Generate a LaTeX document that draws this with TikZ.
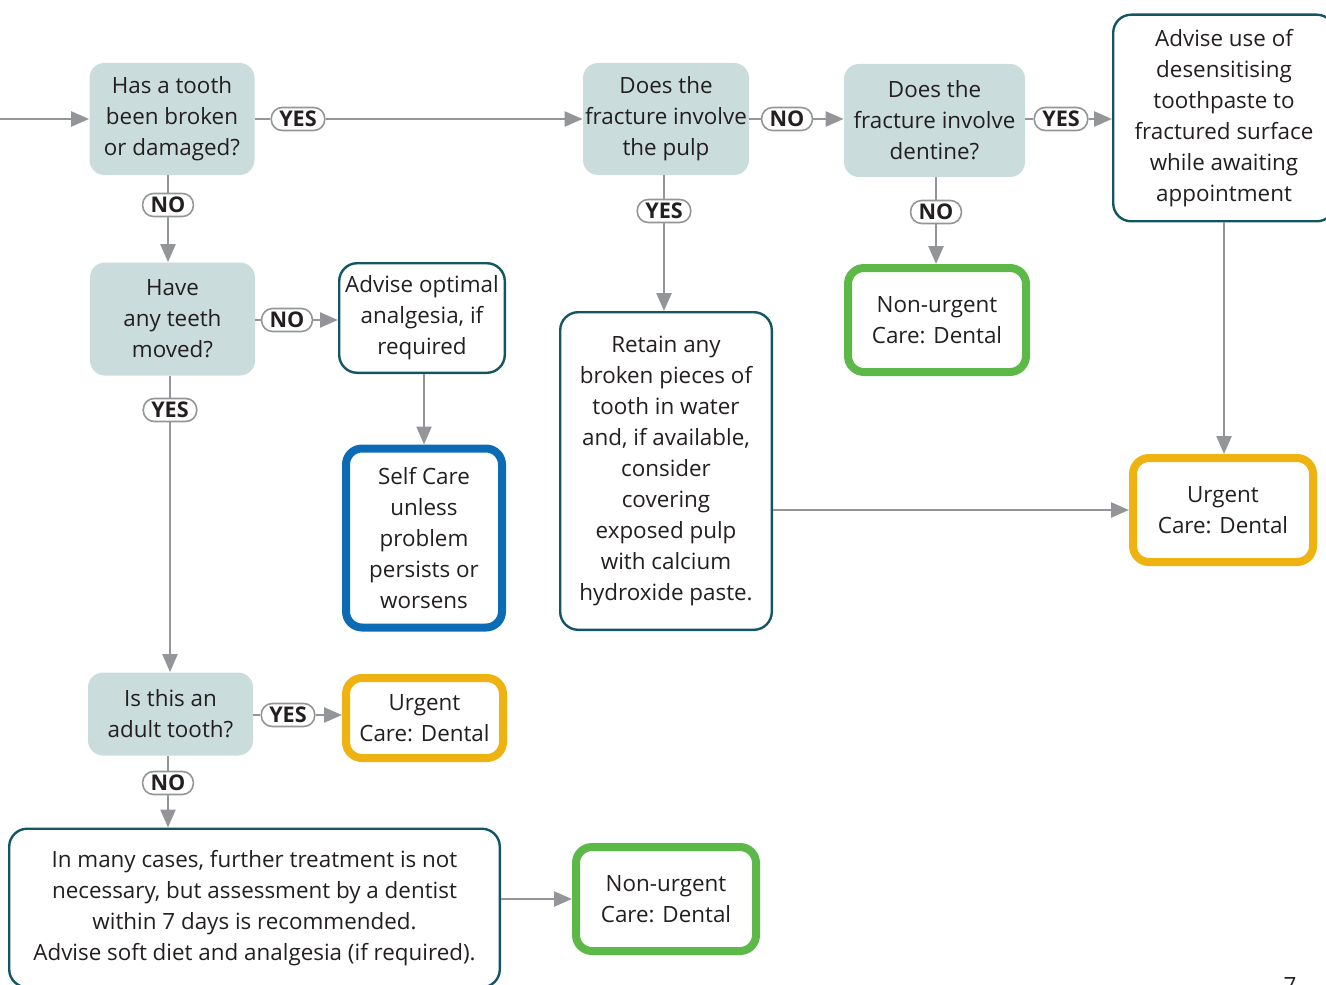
\documentclass[tikz,border=0pt]{standalone}
\usepackage{fontspec}
\setmainfont{Open Sans}
\usepackage{tikz}
\usetikzlibrary{arrows.meta}
\definecolor{qfill}{HTML}{CADCDC}
\definecolor{tealline}{HTML}{145564}
\definecolor{connline}{HTML}{939598}
\definecolor{urgent}{HTML}{EEB211}
\definecolor{nonurgent}{HTML}{5CB947}
\definecolor{selfcare}{HTML}{0B6CB5}
\definecolor{txt}{HTML}{231F20}

\begin{document}
\begin{tikzpicture}[x=0.5pt,y=-0.5pt,
    font=\fontsize{11.2}{15.5}\selectfont, text=txt,
    >={Triangle[length=9pt,width=7.5pt]},
    quest/.style={fill=qfill, rounded corners=7.5pt, align=center, inner sep=1pt},
    info/.style={draw=tealline, line width=1.2pt, fill=white, rounded corners=9pt, align=center, inner sep=1pt},
    care/.style={line width=4pt, fill=white, rounded corners=8pt, align=center, inner sep=1pt},
    pill/.style={draw=connline, line width=0.8pt, fill=white, rounded corners=5.5pt,
        font=\fontsize{10.8}{12}\selectfont\bfseries, inner xsep=4pt, inner ysep=0pt, minimum height=11.5pt},
    conn/.style={draw=connline, line width=1.25pt}]
    \clip (0,0) rectangle (1326,984);

    % questions
    \node[quest, minimum width=82.5pt, minimum height=56pt] (broken) at (172,119) {Has a tooth\\been broken\\or damaged?};
    \node[quest, minimum width=83pt, minimum height=56pt] (pulp) at (666,119) {Does the\\fracture involve\\the pulp};
    \node[quest, minimum width=90.5pt, minimum height=56.5pt] (dentine) at (934.5,120.5) {Does the\\fracture involve\\dentine?};
    \node[quest, minimum width=82.5pt, minimum height=56.5pt] (moved) at (172.5,319) {Have\\any teeth\\moved?};
    \node[quest, minimum width=82.5pt, minimum height=41.5pt] (adult) at (170.5,714) {Is this an\\adult tooth?};

    % advice boxes
    \node[info, minimum width=110.8pt, minimum height=103.3pt] (paste) at (1224,118) {Advise use of\\desensitising\\toothpaste to\\fractured surface\\while awaiting\\appointment};
    \node[info, minimum width=82.8pt, minimum height=54.8pt] (analgesia) at (422,318) {Advise optimal\\analgesia, if\\required};
    \node[info, minimum width=105.8pt, minimum height=158.8pt] (retain) at (666,471) {Retain any\\broken pieces of\\tooth in water\\and, if available,\\consider\\covering\\exposed pulp\\with calcium\\hydroxide paste.};
    \node[info, minimum width=245.3pt, minimum height=79.3pt] (advice) at (254.5,908) {In many cases, further treatment is not\\necessary, but assessment by a dentist\\within 7 days is recommended.\\Advise soft diet and analgesia (if required).};

    % outcomes
    \node[care, draw=urgent, minimum width=90pt, minimum height=52pt] (urgentA) at (1223,510) {Urgent\\Care: Dental};
    \node[care, draw=nonurgent, minimum width=89pt, minimum height=52pt] (nonurgentA) at (937,320) {Non-urgent\\Care: Dental};
    \node[care, draw=selfcare, minimum width=78pt, minimum height=89.5pt] (selfcare) at (424,538) {Self Care\\unless\\problem\\persists or\\worsens};
    \node[care, draw=urgent, minimum width=78.5pt, minimum height=40pt] (urgentB) at (424.5,718) {Urgent\\Care: Dental};
    \node[care, draw=nonurgent, minimum width=90pt, minimum height=52pt] (nonurgentB) at (666,899) {Non-urgent\\Care: Dental};

    % yes / no labels
    \node[pill] (yesA) at (298,119) {YES};
    \node[pill] (noA) at (168,205) {NO};
    \node[pill] (noB) at (787,119) {NO};
    \node[pill] (yesB) at (664,211) {YES};
    \node[pill] (yesC) at (1061,119) {YES};
    \node[pill] (noC) at (936,212) {NO};
    \node[pill] (noD) at (287,320) {NO};
    \node[pill] (yesD) at (170,410) {YES};
    \node[pill] (yesE) at (288,715) {YES};
    \node[pill] (noE) at (168,783) {NO};

    % connectors
    \coordinate (entry) at (-10,119);
    \draw[conn,->] (entry) -- (entry -| broken.west);
    \draw[conn] (broken.east |- yesA) -- (yesA);
    \draw[conn,->] (yesA) -- (yesA -| pulp.west);
    \draw[conn] (pulp.east |- noB) -- (noB);
    \draw[conn,->] (noB) -- (noB -| dentine.west);
    \draw[conn] (dentine.east |- yesC) -- (yesC);
    \draw[conn,->] (yesC) -- (yesC -| paste.west);
    \draw[conn,->] (paste.south) -- (paste.south |- urgentA.north);
    \draw[conn] (yesB |- pulp.south) -- (yesB);
    \draw[conn,->] (yesB) -- (yesB |- retain.north);
    \draw[conn,->] (retain.east |- urgentA.west) -- (urgentA.west);
    \draw[conn] (noC |- dentine.south) -- (noC);
    \draw[conn,->] (noC) -- (noC |- nonurgentA.north);
    \draw[conn] (noA |- broken.south) -- (noA);
    \draw[conn,->] (noA) -- (noA |- moved.north);
    \draw[conn] (moved.east |- noD) -- (noD);
    \draw[conn,->] (noD) -- (noD -| analgesia.west);
    \draw[conn,->] (selfcare.north |- analgesia.south) -- (selfcare.north);
    \draw[conn] (yesD |- moved.south) -- (yesD);
    \draw[conn,->] (yesD) -- (yesD |- adult.north);
    \draw[conn] (adult.east |- yesE) -- (yesE);
    \draw[conn,->] (yesE) -- (yesE -| urgentB.west);
    \draw[conn] (noE |- adult.south) -- (noE);
    \draw[conn,->] (noE) -- (noE |- advice.north);
    \draw[conn,->] (advice.east |- nonurgentB.west) -- (nonurgentB.west);

    \node[anchor=north, inner sep=0pt] (page) at (1290,977) {7};
\end{tikzpicture}
\end{document}
